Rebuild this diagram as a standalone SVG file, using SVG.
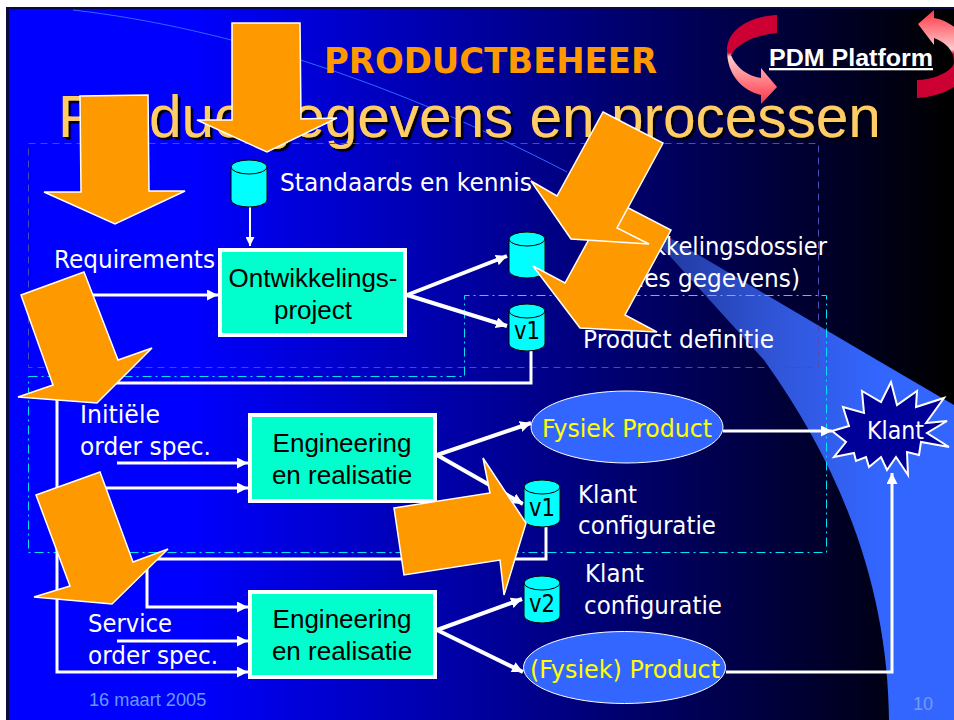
<svg xmlns="http://www.w3.org/2000/svg" width="954" height="720" viewBox="0 0 954 720">
<defs>
<linearGradient id="bg" gradientUnits="userSpaceOnUse" x1="190" y1="0" x2="950" y2="0"><stop offset="0" stop-color="#0000ff"/><stop offset="1" stop-color="#000000"/></linearGradient>
<linearGradient id="band" gradientUnits="userSpaceOnUse" x1="620" y1="0" x2="880" y2="0"><stop offset="0" stop-color="#1c2f8c"/><stop offset="0.6" stop-color="#3055d8"/><stop offset="1" stop-color="#3366ff"/></linearGradient>
<linearGradient id="redL" gradientUnits="userSpaceOnUse" x1="0" y1="15" x2="0" y2="104"><stop offset="0.42" stop-color="#cc0033"/><stop offset="0.47" stop-color="#ffcccc"/><stop offset="1" stop-color="#ff3344"/></linearGradient>
<linearGradient id="redR" gradientUnits="userSpaceOnUse" x1="0" y1="10" x2="0" y2="98"><stop offset="0" stop-color="#ff3344"/><stop offset="0.45" stop-color="#ffcccc"/><stop offset="0.5" stop-color="#cc0033"/></linearGradient>
<filter id="shadow" x="-2%" y="-10%" width="104%" height="120%"><feDropShadow dx="2.500" dy="2.500" stdDeviation="0" flood-color="#000"/></filter>
<marker id="ah" markerUnits="userSpaceOnUse" viewBox="0 0 10 10" refX="10" refY="5" markerWidth="11" markerHeight="11" orient="auto"><path d="M0,0 L10,5 L0,10 Z" fill="#fff"/></marker>
<marker id="ahs" markerUnits="userSpaceOnUse" viewBox="0 0 10 10" refX="10" refY="5" markerWidth="9" markerHeight="9" orient="auto"><path d="M0,0 L10,5 L0,10 Z" fill="#fff"/></marker>
</defs>
<style>
.t{font-family:"DejaVu Sans","Liberation Sans",sans-serif;font-size:25px;fill:#fff}
.y{fill:#ffff00}
.a{font-family:"Liberation Sans",Arial,sans-serif;font-size:26px;fill:#000;text-anchor:middle}
.c{fill:#00ffff;stroke:#000;stroke-width:1}
.v{font-family:"DejaVu Sans","Liberation Sans",sans-serif;font-size:25px;fill:#000;text-anchor:middle}
.b{fill:#00ffcc;stroke:#fff;stroke-width:4}
.e{fill:#3366ff;stroke:#fff;stroke-width:1}
.ar{fill:#ff9900;stroke:#fff;stroke-width:1.5}
.l{fill:none;stroke:#fff;stroke-width:3;stroke-linejoin:miter}
.l4{fill:none;stroke:#fff;stroke-width:4}
.s{fill:none;stroke:#fff;stroke-width:2}
</style>
<rect width="954" height="720" fill="#fff"/>
<rect x="6" y="7" width="948" height="713" fill="#0a0a40"/>
<rect x="9" y="9" width="945" height="711" fill="url(#bg)"/>
<path id="band-line" d="M73,10 C230,28 400,85 567,172" fill="none" stroke="#3366ff" stroke-width="1"/>
<path id="band-shape" d="M567,172 L670,238 L877,360 L954,405 V720 H889 C888,600 850,480 764,360 L667,253 Z" fill="url(#band)"/>
<g id="title">
<text x="324" y="72.500" font-family="'DejaVu Sans','Liberation Sans',sans-serif" font-weight="700" font-size="36" fill="#ff9900" textLength="333" lengthAdjust="spacingAndGlyphs">PRODUCTBEHEER</text>
<text x="58" y="137" font-family="'Liberation Sans',Arial,sans-serif" font-size="58.500" fill="#ffcc66" filter="url(#shadow)">Productgegevens en processen</text>
</g>
<g id="platform">
<path d="M777,15 V33 C755,35 738,43 731,55 C736,68 748,76 761,78 V68 L777,87 L761,104 V95 C742,90 727,75 727,50 C727,30 750,16 777,15 Z" fill="url(#redL)"/>
<path d="M918,24 L934,10 V18 C950,20 975,40 975,55 C975,80 945,97 917,98 V80 C935,80 954,70 954,62 C954,50 945,42 934,38 V45 Z" fill="url(#redR)"/>
<text x="769" y="66" font-family="'Liberation Sans',Arial,sans-serif" font-weight="700" font-size="23" fill="#fff" text-decoration="underline" textLength="164" lengthAdjust="spacingAndGlyphs">PDM Platform</text>
</g>
<g id="regions" fill="none">
<rect x="28.500" y="143.500" width="790" height="224" stroke="#4a4ab8" stroke-width="1" stroke-dasharray="7 5"/>
<path d="M28.500,376.500 H464.500 V295.500 H826.500 V552.500 H28.500 Z" stroke="#00e5ff" stroke-width="1" stroke-dasharray="9 4 2 4"/>
</g>
<g id="connectors">
<path class="s" d="M250,207 V246" marker-end="url(#ahs)"/>
<path class="l" d="M90,295 H218" marker-end="url(#ah)"/>
<path class="l4" d="M407,295 L507,256" marker-end="url(#ah)"/>
<path class="l4" d="M407,295 L507,326" marker-end="url(#ah)"/>
<path class="l" d="M531,351 V383 H57 V672 H248" marker-end="url(#ah)"/>
<path class="l" d="M57,488 H248" marker-end="url(#ah)"/>
<path class="l" d="M117,463 H248" marker-end="url(#ah)"/>
<path class="l4" d="M437,455 L531,423" marker-end="url(#ah)"/>
<path class="l4" d="M437,455 L523,504" marker-end="url(#ah)"/>
<path class="l" d="M723,431 H832" marker-end="url(#ah)"/>
<path class="l" d="M546,527 V559 H147 V607 H248" marker-end="url(#ah)"/>
<path class="l" d="M117,641 H248" marker-end="url(#ah)"/>
<path class="l4" d="M437,630 L522,599" marker-end="url(#ah)"/>
<path class="l4" d="M437,630 L523,672" marker-end="url(#ah)"/>
<path class="l" d="M726,672 H892 V473" marker-end="url(#ah)"/>
</g>
<g id="db-standaards"><path class="c" d="M231,167 V200 A18,7 0 0 0 267,200 V167 A18,7 0 0 0 231,167 A18,7 0 0 0 267,167"/><text class="t" x="280" y="191" textLength="252" lengthAdjust="spacingAndGlyphs">Standaards en kennis</text></g>
<g id="db-dossier"><path class="c" d="M509,239 V271 A18,7 0 0 0 545,271 V239 A18,7 0 0 0 509,239 A18,7 0 0 0 545,239"/>
<text class="t" x="587" y="255" textLength="240" lengthAdjust="spacingAndGlyphs">Ontwikkelingsdossier</text>
<text class="t" x="608" y="287" textLength="192" lengthAdjust="spacingAndGlyphs">(alles gegevens)</text></g>
<g id="db-v1-definitie"><path class="c" d="M509,311 V344 A18,7 0 0 0 545,344 V311 A18,7 0 0 0 509,311 A18,7 0 0 0 545,311"/><text class="v" x="527" y="339" textLength="26" lengthAdjust="spacingAndGlyphs">v1</text><text class="t" x="583" y="348" textLength="191" lengthAdjust="spacingAndGlyphs">Product definitie</text></g>
<g id="db-v1-klant"><path class="c" d="M524,487 V520 A18,7 0 0 0 560,520 V487 A18,7 0 0 0 524,487 A18,7 0 0 0 560,487"/><text class="v" x="542" y="516" textLength="26" lengthAdjust="spacingAndGlyphs">v1</text><text class="t" x="578" y="503" textLength="59" lengthAdjust="spacingAndGlyphs">Klant</text><text class="t" x="578" y="534" textLength="138" lengthAdjust="spacingAndGlyphs">configuratie</text></g>
<g id="db-v2-klant"><path class="c" d="M524,583 V616 A18,7 0 0 0 560,616 V583 A18,7 0 0 0 524,583 A18,7 0 0 0 560,583"/><text class="v" x="542" y="612" textLength="26" lengthAdjust="spacingAndGlyphs">v2</text><text class="t" x="585" y="582" textLength="59" lengthAdjust="spacingAndGlyphs">Klant</text><text class="t" x="584" y="614" textLength="138" lengthAdjust="spacingAndGlyphs">configuratie</text></g>
<g id="requirements"><text class="t" x="54" y="268" textLength="161" lengthAdjust="spacingAndGlyphs">Requirements</text></g>
<g id="initiele"><text class="t" x="80" y="423" textLength="80" lengthAdjust="spacingAndGlyphs">Initiële</text><text class="t" x="80" y="455" textLength="131" lengthAdjust="spacingAndGlyphs">order spec.</text></g>
<g id="service"><text class="t" x="88" y="632" textLength="84" lengthAdjust="spacingAndGlyphs">Service</text><text class="t" x="88" y="664" textLength="130" lengthAdjust="spacingAndGlyphs">order spec.</text></g>
<g id="ontwikkelingsproject"><rect class="b" x="220" y="250" width="185" height="85"/><text class="a" x="313" y="287">Ontwikkelings-</text><text class="a" x="313" y="319">project</text></g>
<g id="engineering1"><rect class="b" x="250" y="415" width="185" height="86"/><text class="a" x="342" y="452">Engineering</text><text class="a" x="342" y="484">en realisatie</text></g>
<g id="engineering2"><rect class="b" x="250" y="592" width="185" height="85"/><text class="a" x="342" y="628">Engineering</text><text class="a" x="342" y="660">en realisatie</text></g>
<g id="fysiek"><ellipse class="e" cx="627" cy="427" rx="96" ry="36"/><text class="t y" x="542" y="437" textLength="170" lengthAdjust="spacingAndGlyphs">Fysiek Product</text></g>
<g id="fysiek2"><ellipse class="e" cx="624.500" cy="667.500" rx="101" ry="36"/><text class="t y" x="530" y="678" textLength="190" lengthAdjust="spacingAndGlyphs">(Fysiek) Product</text></g>
<g id="klant"><polygon points="832,431 849,426 843,407 864,413 862,391 881,402 891,382 897,405 917,391 916,407 944,398 926,423 947,421 927,433 949,447 921,442 919,455 907,452 908,475 896,457 887,470 881,457 869,467 866,457 856,461 854,453 834,457 846,442" fill="#000099" stroke="#fff" stroke-width="2"/><text class="t" x="867" y="439" textLength="57" lengthAdjust="spacingAndGlyphs">Klant</text></g>
<g id="arrows">
<polygon class="ar" points="232,23 300,23 301,119 337,118 267,152 197,120 232,120"/>
<polygon class="ar" points="80,96 148,95 149,191 185,191 115,224 44,192 81,192"/>
<polygon class="ar" points="21,295 84,272 118,360 152,348 97,403 18,397 53,385"/>
<polygon class="ar" points="36,495 100,472 133,562 168,549 112,604 34,597 70,586"/>
<polygon class="ar" points="394,508 490,493 483,458 526,523 504,595 500,560 404,575"/>
<polygon class="ar" points="611,199 671,230 625,315 657,332 580,328 533,266 565,283"/>
<polygon class="ar" points="603,112 663,143 617,228 649,244 571,239 531,181 557,196"/>
</g>
<g id="footer"><text x="89" y="706" font-family="'Liberation Sans',Arial,sans-serif" font-size="18.200" fill="#6699ff">16 maart 2005</text><text x="913" y="710" font-family="'Liberation Sans',Arial,sans-serif" font-size="18" fill="#7799ee">10</text></g>
</svg>
